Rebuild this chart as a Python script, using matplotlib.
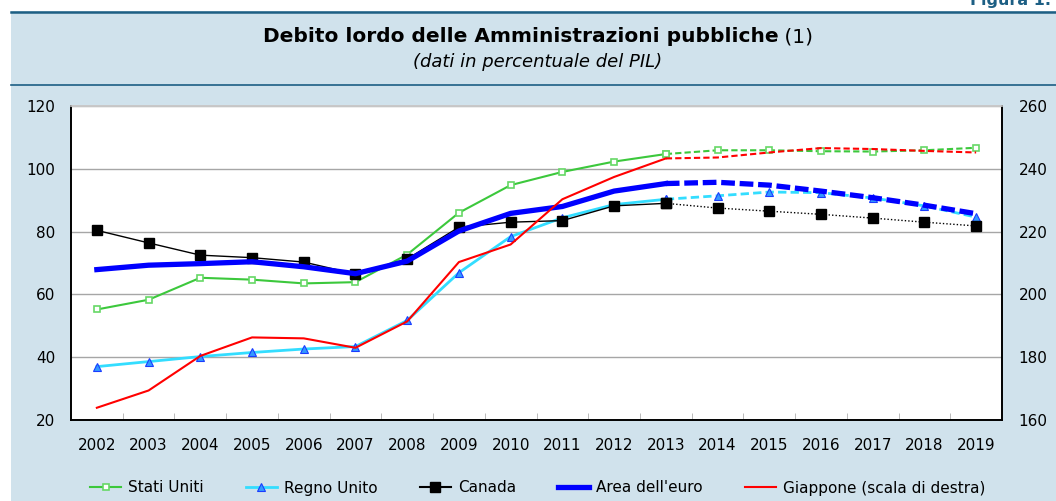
import matplotlib
matplotlib.use("Agg")
import matplotlib.pyplot as plt
from matplotlib.lines import Line2D
from matplotlib.patches import Rectangle
import numpy as np

plt.rcParams["font.family"] = ["DejaVu Sans"]

years = [str(y) for y in range(2002, 2020)]
stati_uniti = [55.2, 58.3, 65.3, 64.7, 63.5, 63.9, 72.7, 86.0, 94.8, 99.0,
               102.3, 104.7, 105.9, 105.9, 105.6, 105.5, 105.9, 106.7]
regno_unito = [37.0, 38.6, 40.2, 41.5, 42.6, 43.4, 51.7, 66.9, 78.4, 84.4,
               88.6, 90.3, 91.4, 92.6, 92.4, 90.7, 88.2, 84.6]
canada = [80.4, 76.4, 72.5, 71.7, 70.3, 66.5, 71.3, 81.4, 83.0, 83.5,
          88.2, 89.0, 87.5, 86.5, 85.5, 84.3, 83.0, 81.8]
area_euro = [67.9, 69.3, 69.8, 70.4, 68.8, 66.6, 70.6, 80.2, 85.8, 88.0,
             92.9, 95.3, 95.7, 94.8, 92.9, 90.8, 88.4, 85.7]
giappone = [163.9, 169.4, 180.4, 186.3, 186.0, 183.0, 191.4, 210.3, 215.9, 230.3,
            237.4, 243.3, 243.6, 245.2, 246.6, 246.3, 245.7, 245.2]
last_actual = "2013"

W, H = 1056, 501
bg = "#d0e2ec"
dark = "#1d5f84"

fig = plt.figure(figsize=(W / 100, H / 100), dpi=100)
fig.patch.set_facecolor("white")

# light blue panel and rules
fig.patches.append(Rectangle((11 / W, 0), 1, 1 - 11 / H, transform=fig.transFigure,
                             facecolor=bg, edgecolor="none", zorder=-10))
fig.add_artist(Line2D([11 / W, 1], [1 - 11.5 / H, 1 - 11.5 / H], color=dark, lw=1.8))
fig.add_artist(Line2D([11 / W, 1], [1 - 85 / H, 1 - 85 / H], color=dark, lw=1.2))
fig.text(970 / W, 1 - 5 / H, "Figura 1.", ha="left", va="baseline",
         fontsize=11.5, fontweight="bold", color=dark)

# title: bold part + regular "(1)"
renderer = fig.canvas.get_renderer()
t1 = fig.text(0, 1 - 37 / H, "Debito lordo delle Amministrazioni pubbliche",
              ha="left", va="center", fontsize=14.5, fontweight="bold")
t2 = fig.text(0, 1 - 37 / H, " (1)", ha="left", va="center", fontsize=14.5)
w1 = t1.get_window_extent(renderer).width
w2 = t2.get_window_extent(renderer).width
x0 = 538 - (w1 + w2) / 2
t1.set_x(x0 / W)
t2.set_x((x0 + w1) / W)
fig.text(538 / W, 1 - 62 / H, "(dati in percentuale del PIL)", ha="center",
         va="center", fontsize=13, style="italic")

ax = fig.add_axes([71 / W, 1 - 420 / H, (1002 - 71) / W, (420 - 106) / H])
ax2 = ax.twinx()
x = np.arange(len(years))
k = years.index(last_actual)
sol = slice(0, k + 1)
das = slice(k, len(years))

ax.set_facecolor("white")
ax.set_xlim(-0.5, len(years) - 0.5)
ax.set_ylim(20, 120)
ax2.set_ylim(160, 260)
ax.set_yticks(np.arange(20, 121, 20))
ax2.set_yticks(np.arange(160, 261, 20))
ax.grid(axis="y", color="#a6a6a6", lw=1)
ax.set_axisbelow(True)
ax.set_xticks(x)
ax.set_xticklabels(years)
ax.set_xticks(x[:-1] + 0.5, minor=True)
ax.tick_params(axis="x", which="major", length=0, pad=13, labelsize=11)
ax.tick_params(axis="x", which="minor", direction="in", length=5, color="#b0b0b0")
ax.tick_params(axis="y", length=0, pad=11.5, labelsize=11)
ax2.tick_params(axis="y", length=0, pad=12, labelsize=11)
for a in (ax, ax2):
    for s in ("left", "right", "bottom"):
        a.spines[s].set_color("black")
        a.spines[s].set_linewidth(1.2)
    a.spines["top"].set_color("#c8c8c8")
    a.spines["top"].set_linewidth(1.2)

green = "#3cc83c"
cyan = "#33ddff"
blue = "#0000ff"
red = "#ff0000"

us_kw = dict(color=green, lw=1.5, marker="s", ms=5, mfc="white", mec="#66d866", mew=1.2)
uk_kw = dict(color=cyan, lw=2, marker="^", ms=6, mfc="#3399ff", mec="#1a3cff", mew=0.8)
ca_kw = dict(color="black", marker="s", ms=6.5, mfc="black", mec="black")

ax.plot(x[sol], stati_uniti[sol], **us_kw, zorder=3)
ax.plot(x[das], stati_uniti[das], ls=(0, (3, 1.5)), **us_kw, zorder=3)
ax.plot(x[sol], regno_unito[sol], **uk_kw, zorder=3)
ax.plot(x[das], regno_unito[das], ls=(0, (3, 1.5)), **uk_kw, zorder=3)
ax.plot(x[sol], canada[sol], lw=1, **ca_kw, zorder=4)
ax.plot(x[das], canada[das], lw=1, ls=(0, (1, 1.5)), **ca_kw, zorder=4)
ax.plot(x[sol], area_euro[sol], color=blue, lw=3.8, zorder=5)
ax.plot(x[das], area_euro[das], color=blue, lw=3.8, ls=(0, (2.6, 0.9)), zorder=5)
ax2.plot(x[sol], giappone[sol], color=red, lw=1.5)
ax2.plot(x[das], giappone[das], color=red, lw=1.5, ls=(0, (3, 1.5)))

handles = [
    Line2D([], [], **us_kw),
    Line2D([], [], **uk_kw),
    Line2D([], [], lw=1.5, **ca_kw),
    Line2D([], [], color=blue, lw=3.8),
    Line2D([], [], color=red, lw=1.5),
]
labels = ["Stati Uniti", "Regno Unito", "Canada", "Area dell'euro",
          "Giappone (scala di destra)"]
fig.legend(handles, labels, loc="center", bbox_to_anchor=(538 / W, 1 - 488 / H),
           ncol=5, frameon=False, fontsize=11, handlelength=2.0,
           handletextpad=0.5, columnspacing=2.75)

fig.savefig("out.png", dpi=100, facecolor=fig.get_facecolor())
